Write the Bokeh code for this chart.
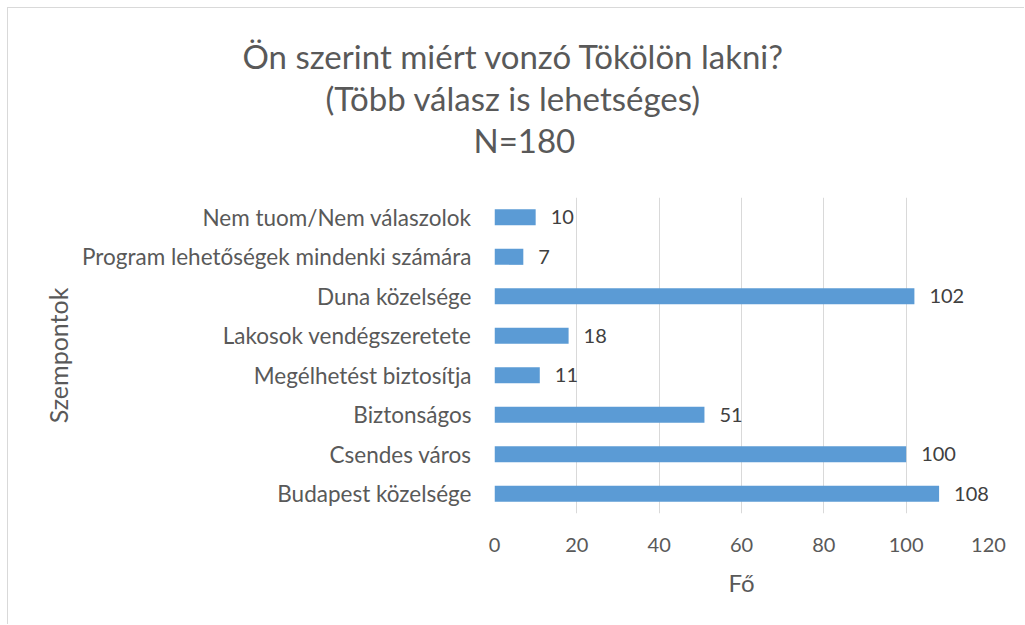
from bokeh.plotting import figure
from bokeh.models import ColumnDataSource, FactorRange, Range1d, LabelSet, Title, SingleIntervalTicker
from bokeh.core.properties import value
from bokeh.embed import file_html
from bokeh.resources import INLINE

categories = ["Budapest közelsége", "Csendes város", "Biztonságos", "Megélhetést biztosítja",
              "Lakosok vendégszeretete", "Duna közelsége", "Program lehetőségek mindenki számára",
              "Nem tuom/Nem válaszolok"]
values = [108, 100, 51, 11, 18, 102, 7, 10]
title_lines = ["Ön szerint miért vonzó Tökölön lakni?", "(Több válasz is lehetséges)", "N=180"]

FONT = "Lato"
GRAY = "#595959"
W, H = 1017, 617
FL, FT, FR, FB = 486, 189, 980, 505  # frame edges in canvas pixels
XMAX = 120

src = ColumnDataSource(dict(cat=categories, val=values, lab=[str(v) for v in values]))

p = figure(width=W, height=H, output_backend="svg", toolbar_location=None,
           y_range=FactorRange(*categories, range_padding=0), x_range=Range1d(0, XMAX),
           min_border_left=FL, min_border_right=W - FR, min_border_top=FT, min_border_bottom=H - FB)
p.styles = {"border-left": "1px solid #d9d9d9", "border-top": "1px solid #d9d9d9",
            "margin-left": "7px", "margin-top": "7px"}
p.outline_line_color = None
p.hbar(y="cat", right="val", height=0.41, source=src, color="#5b9bd5", line_color=None)

p.xaxis.ticker = SingleIntervalTicker(interval=20)
p.xgrid.grid_line_color = "#d9d9d9"
p.xgrid.grid_line_width = 1
p.ygrid.grid_line_color = None
for ax in (p.xaxis[0], p.yaxis[0]):
    ax.axis_line_color = None
    ax.major_tick_line_color = None
    ax.minor_tick_line_color = None
    ax.major_tick_out = 0
    ax.major_tick_in = 0
    ax.major_label_text_font = FONT
    ax.major_label_text_color = GRAY
    ax.axis_label_text_font = FONT
    ax.axis_label_text_color = GRAY
    ax.axis_label_text_font_style = "normal"
p.xaxis.major_label_text_font_size = "20px"
p.yaxis.major_label_text_font_size = "22.5px"
p.xaxis.axis_label_text_font_size = "24px"
p.yaxis.axis_label_text_font_size = "25px"
p.xaxis.axis_label = "Fő"
p.yaxis.axis_label = "Szempontok"
p.xaxis.major_label_standoff = 20
p.xaxis.axis_label_standoff = 13
p.yaxis.major_label_standoff = 23
p.yaxis.axis_label_standoff = 6

labels = LabelSet(x="val", y="cat", text="lab", source=src, x_offset=15, y_offset=0,
                  text_baseline="middle", text_font=value(FONT), text_font_size="20px",
                  text_color="#404040")
p.add_layout(labels)

# spacer between the frame and the title block (innermost "above" panel)
p.add_layout(Title(text=" ", standoff=24, text_font=FONT, text_font_size="10px"), "above")

# title: three stacked lines; the last-added title sits outermost
title_left = [234, 317, 465]  # canvas x of each line's left edge
for t, lx in reversed(list(zip(title_lines, title_left))):
    p.add_layout(Title(text=t, align="left", offset=lx - FL, standoff=0,
                       text_font=FONT, text_font_size="33px", text_font_style="normal",
                       text_color=GRAY), "above")

open("out.html", "w").write(file_html(p, INLINE))
